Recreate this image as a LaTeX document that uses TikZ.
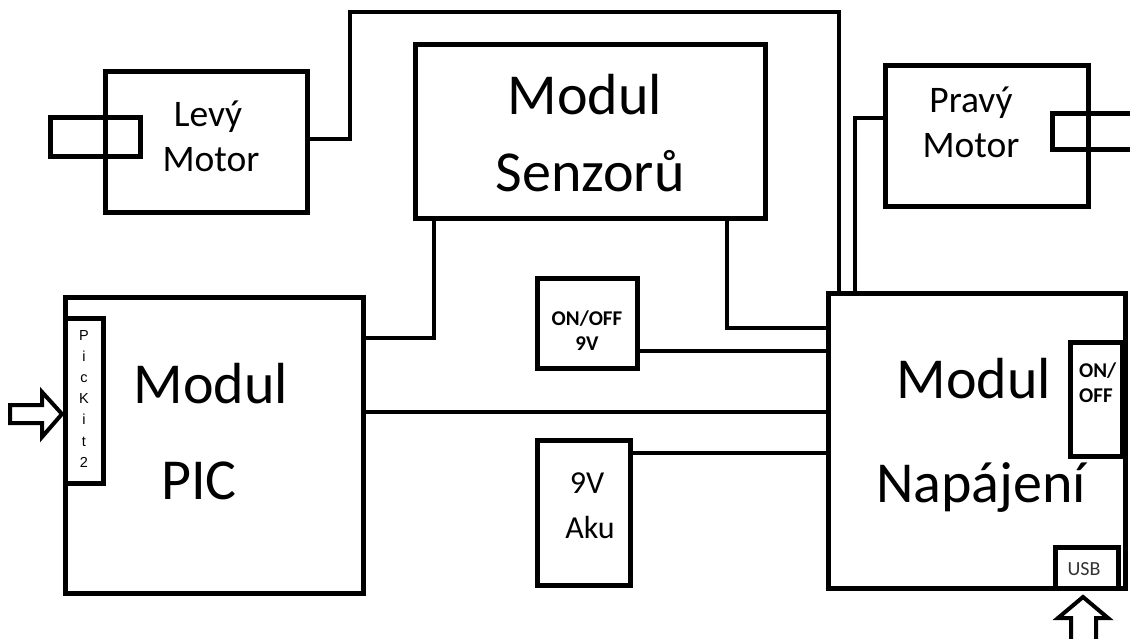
\documentclass[tikz,border=0pt]{standalone}
\usepackage{fontspec}
\setmainfont{Carlito}
\newfontfamily\pkfont{Liberation Sans}
\begin{document}
\begin{tikzpicture}[x=1pt,y=-1pt,
  blk/.style={draw, line width=5pt, inner sep=0pt, outer sep=0pt},
  edge/.style={line width=5pt},
  wire/.style={line width=4.5pt},
  bigt/.style={anchor=base, inner sep=0pt, font=\fontsize{58}{68}\selectfont},
  midt/.style={anchor=base, inner sep=0pt, font=\fontsize{37.5}{44}\selectfont},
  akut/.style={anchor=base, inner sep=0pt, font=\fontsize{32}{38}\selectfont},
  smlb/.style={anchor=base, inner sep=0pt, font=\fontsize{21}{24}\selectfont\bfseries},
  usbt/.style={anchor=base, inner sep=0pt, text=black!80, font=\fontsize{20}{24}\selectfont},
  pkt/.style={anchor=base, inner sep=0pt, font=\fontsize{14.5}{16}\pkfont},
  arr/.style={line width=4pt, line join=miter, fill=white}
]
\fill[white] (0,0) rectangle (1130,639);
\useasboundingbox (0,0) rectangle (1130,639);

% boxes
\node[blk, minimum width=202pt, minimum height=141pt] (lm) at (206,142.5) {};
\node[blk, minimum width=90pt, minimum height=39pt] (lms) at (95,137.5) {};
\node[blk, minimum width=203pt, minimum height=141pt] (pm) at (986.5,136.5) {};
\node[blk, minimum width=350pt, minimum height=174pt] (sen) at (590,132) {};
\node[blk, minimum width=298pt, minimum height=296pt] (pic) at (214,445) {};
\node[blk, minimum width=38pt, minimum height=165pt] (pk) at (84,400.5) {};
\node[blk, minimum width=100pt, minimum height=90pt] (sw) at (587,323) {};
\node[blk, minimum width=93pt, minimum height=145pt] (aku) at (583.5,512.5) {};
\node[blk, minimum width=297pt, minimum height=295pt] (nap) at (976.5,440.5) {};
\node[blk, minimum width=52pt, minimum height=114pt] (napsw) at (1096,399) {};
\node[blk, minimum width=63pt, minimum height=41pt] (usb) at (1086.5,567.5) {};

% right motor shaft (cut by the page edge)
\draw[edge] (1140,114) -- (1052,114) -- (1052,150) -- (1140,150);

% wires
\draw[wire] ([yshift=3.5pt]lm.east) -| (350,12) -| ([xshift=11pt]nap.north west);
\draw[wire] ([yshift=18.5pt]pm.west) -| ([xshift=27pt]nap.north west);
\draw[wire] ([xshift=19pt]sen.south west) |- ([yshift=107pt]pic.east);
\draw[wire] ([xshift=-38pt]sen.south east) |- ([yshift=112.5pt]nap.west);
\draw[wire] ([yshift=-28pt]sw.east) -- ([yshift=89.5pt]nap.west);
\draw[wire] ([yshift=33pt]pic.east) -- ([yshift=28.5pt]nap.west);
\draw[wire] ([yshift=59.5pt]aku.east) -- ([yshift=-12.5pt]nap.west);

% input arrows
\draw[arr] (10,405) -- (42,405) -- (42,392) -- (62,414) -- (42,437) -- (42,423) -- (10,423) -- cycle;
\draw[arr] (1071,650) -- (1071,618) -- (1058,618) -- (1083,597) -- (1108,618) -- (1096,618) -- (1096,650);

% labels
\node[midt] (lmt1) at (208,127) {Levý};
\node[midt] (lmt2) at (211,172) {Motor};
\node[midt] (pmt1) at (971,113) {Pravý};
\node[midt] (pmt2) at (971,158) {Motor};
\node[bigt] (sent1) at (585,115) {Modul};
\node[bigt] (sent2) at (590,192) {Senzorů};
\node[bigt] (pict1) at (211,403) {Modul};
\node[bigt] (pict2) at (199,499) {PIC};
\node[bigt] (napt1) at (974,398) {Modul};
\node[bigt] (napt2) at (981,502) {Napájení};
\node[smlb] (swt1) at (587,325) {ON/OFF};
\node[smlb] (swt2) at (587,350) {9V};
\node[akut] (akut1) at (587,493) {9V};
\node[akut] (akut2) at (590,538) {Aku};
\node[smlb, anchor=base west] (nswt1) at (1079,377) {ON/};
\node[smlb, anchor=base west] (nswt2) at (1079,402) {OFF};
\node[usbt] (usbt1) at (1084,575) {USB};
\foreach \l [count=\i] in {P,i,c,K,i,t,2}
  \node[pkt] (pkt\i) at (84,340+21.2*\i-21.2) {\l};
\end{tikzpicture}
\end{document}
